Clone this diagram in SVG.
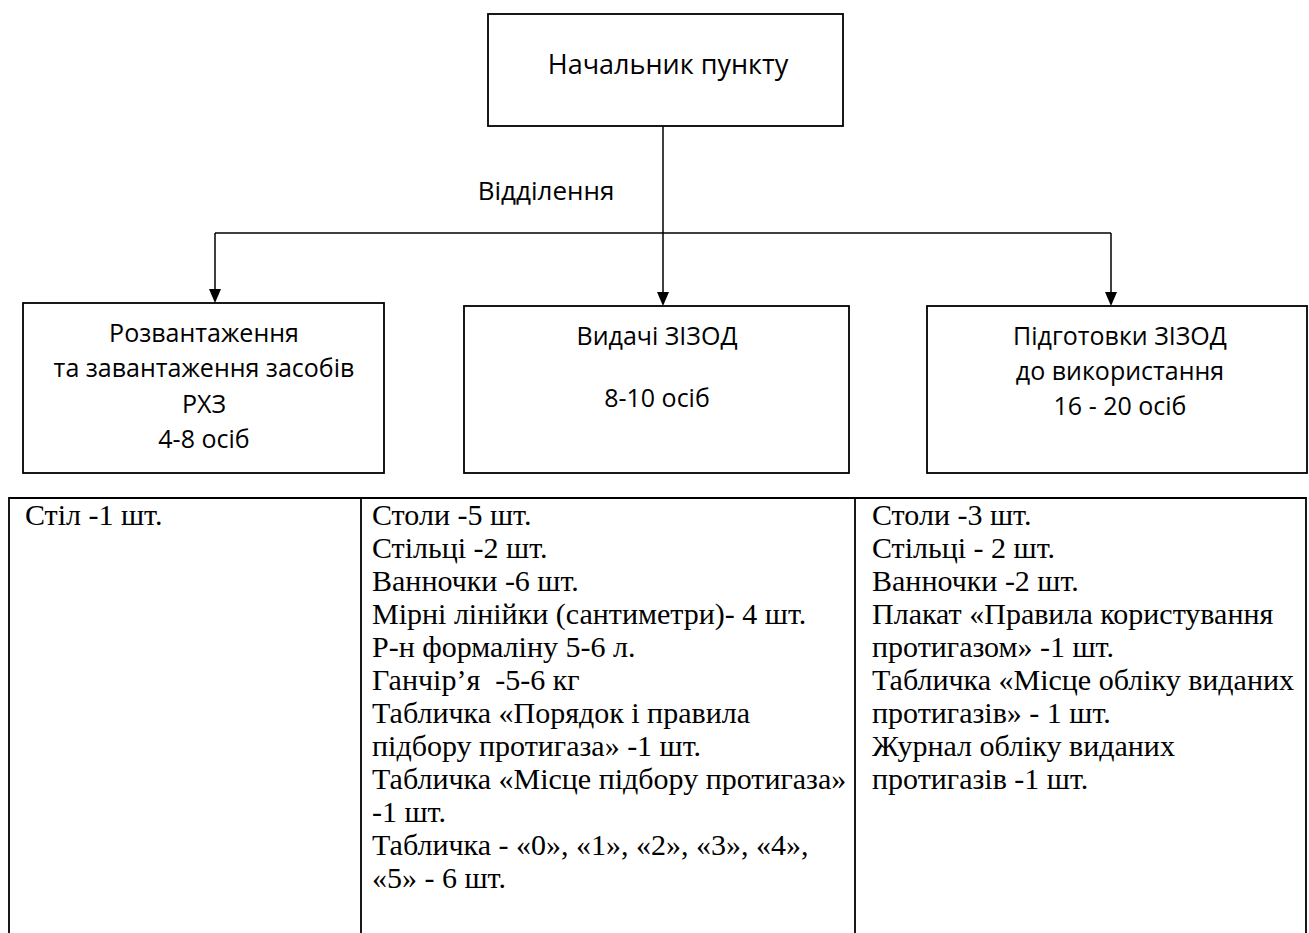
<svg xmlns="http://www.w3.org/2000/svg" width="1309" height="933" viewBox="0 0 1309 933">
<style>
.box{fill:#fff;stroke:#000;stroke-width:1.8}
.t{font-family:"Open Sans","Noto Sans",sans-serif;font-size:25px;fill:#000;text-anchor:middle}
.tab{font-family:"Liberation Serif","Times New Roman",serif;font-size:30px;fill:#000}
.ln{stroke:#000;stroke-width:1.5;fill:none}
.grid{stroke:#000;stroke-width:1.8;fill:none}
.ah{fill:#000}
</style>
<rect width="1309" height="933" fill="#fff"/>
<g id="head">
<rect class="box" x="488" y="14" width="355" height="112"/>
<text class="t" x="668" y="74" style="font-size:27px">Начальник пункту</text>
</g>
<g id="connectors">
<line class="ln" x1="663" y1="126" x2="663" y2="292"/>
<path class="ah" d="M657,292 L669,292 L663,306 Z"/>
<line class="ln" x1="215" y1="233" x2="1111" y2="233"/>
<line class="ln" x1="215" y1="233" x2="215" y2="289"/>
<path class="ah" d="M209,289 L221,289 L215,303 Z"/>
<line class="ln" x1="1111" y1="233" x2="1111" y2="292"/>
<path class="ah" d="M1105,292 L1117,292 L1111,306 Z"/>
</g>
<g id="label">
<text class="t" x="546" y="200" style="font-size:26px">Відділення</text>
</g>
<g id="unload">
<rect class="box" x="23" y="303" width="361" height="170"/>
<text class="t" x="204" y="342">Розвантаження</text>
<text class="t" x="204" y="377">та завантаження засобів</text>
<text class="t" x="204" y="413">РХЗ</text>
<text class="t" x="204" y="448">4-8 осіб</text>
</g>
<g id="issue">
<rect class="box" x="464" y="306" width="385" height="167"/>
<text class="t" x="657" y="345">Видачі ЗІЗОД</text>
<text class="t" x="657" y="407">8-10 осіб</text>
</g>
<g id="prep">
<rect class="box" x="927" y="306" width="380" height="167"/>
<text class="t" x="1120" y="345">Підготовки ЗІЗОД</text>
<text class="t" x="1120" y="380">до використання</text>
<text class="t" x="1120" y="415">16 - 20 осіб</text>
</g>
<g id="table">
<path class="grid" d="M9,933 V498 H1306 V933 M361,498 V933 M855,498 V933"/>
<text class="tab" x="25" y="525">Стіл -1 шт.</text>
<text class="tab" x="372" y="525">Столи -5 шт.</text>
<text class="tab" x="372" y="558">Стільці -2 шт.</text>
<text class="tab" x="372" y="591">Ванночки -6 шт.</text>
<text class="tab" x="372" y="624">Мірні лінійки (сантиметри)- 4 шт.</text>
<text class="tab" x="372" y="657">Р-н формаліну 5-6 л.</text>
<text class="tab" x="372" y="690" xml:space="preserve">Ганчір’я  -5-6 кг</text>
<text class="tab" x="372" y="723">Табличка «Порядок і правила</text>
<text class="tab" x="372" y="756">підбору протигаза» -1 шт.</text>
<text class="tab" x="372" y="789">Табличка «Місце підбору протигаза»</text>
<text class="tab" x="372" y="822">-1 шт.</text>
<text class="tab" x="372" y="855">Табличка - «0», «1», «2», «3», «4»,</text>
<text class="tab" x="372" y="888">«5» - 6 шт.</text>
<text class="tab" x="872" y="525">Столи -3 шт.</text>
<text class="tab" x="872" y="558">Стільці - 2 шт.</text>
<text class="tab" x="872" y="591">Ванночки -2 шт.</text>
<text class="tab" x="872" y="624">Плакат «Правила користування</text>
<text class="tab" x="872" y="657">протигазом» -1 шт.</text>
<text class="tab" x="872" y="690">Табличка «Місце обліку виданих</text>
<text class="tab" x="872" y="723">протигазів» - 1 шт.</text>
<text class="tab" x="872" y="756">Журнал обліку виданих</text>
<text class="tab" x="872" y="789">протигазів -1 шт.</text>
</g>
</svg>
